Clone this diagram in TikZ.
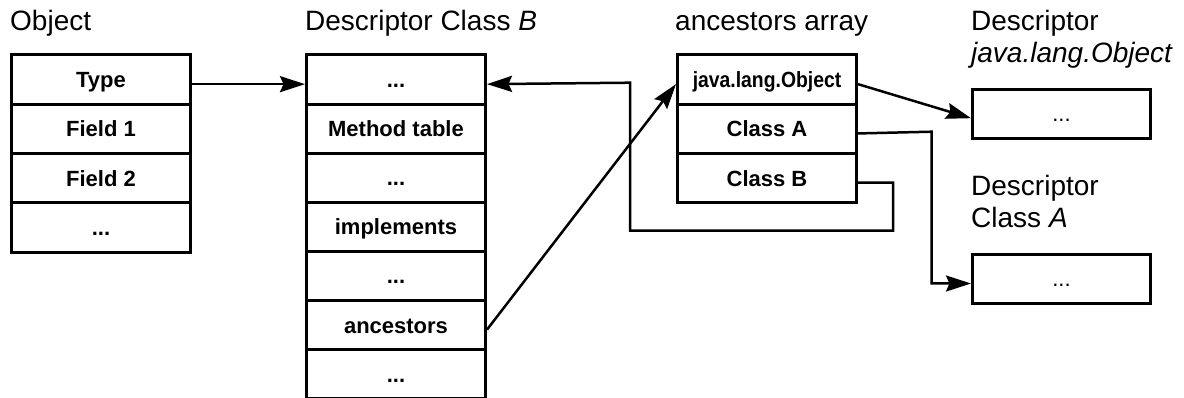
\documentclass[tikz,border=0pt]{standalone}
\usepackage{fontspec}
\usepackage{graphicx}
\setmainfont{Liberation Sans}
\usetikzlibrary{arrows.meta,calc}
\newcommand{\cellfont}{\fontsize{22}{26}\selectfont\bfseries}
\newcommand{\lblfont}{\fontsize{28}{32}\selectfont}
\tikzset{
  cell/.style={draw, line width=3pt, minimum width=179pt, minimum height=49.3pt,
    inner sep=0pt, font=\cellfont, text height=15.8pt, text depth=0pt, anchor=north west},
  lbl/.style={font=\lblfont, anchor=base west, inner sep=0pt},
  conn/.style={line width=2.5pt, -{Stealth[length=25pt,width=16pt,inset=3.5pt]}},
}
\begin{document}
\begin{tikzpicture}[x=1pt,y=-1pt]
\useasboundingbox (0,0) rectangle (1184,398);
% labels
\node[lbl] (lobj) at (10,30.5) {Object};
\node[lbl] (ldb) at (305,30.5) {Descriptor Class \textit{B}};
\node[lbl] (lanc) at (675,30.5) {ancestors array};
\node[lbl] (ldj1) at (971,31) {Descriptor};
\node[lbl] (ldj2) at (971,62.5) {\textit{java.lang.Object}};
\node[lbl] (lda1) at (971,195.5) {Descriptor};
\node[lbl] (lda2) at (971,228) {Class \textit{A}};
% Object
\node[cell] (o1) at (10,53.5) {Type};
\node[cell] (o2) at (10,102.8) {Field 1};
\node[cell] (o3) at (10,152.1) {Field 2};
\node[cell] (o4) at (10,201.4) {...};
% Descriptor Class B
\node[cell] (b1) at (305,53.5) {...};
\node[cell] (b2) at (305,102.6) {Method table};
\node[cell] (b3) at (305,151.7) {...};
\node[cell] (b4) at (305,200.8) {implements};
\node[cell] (b5) at (305,249.9) {...};
\node[cell] (b6) at (305,299.0) {ancestors};
\node[cell] (b7) at (305,348.1) {...};
% ancestors array
\node[cell] (a1) at (676,53.5) {\scalebox{0.88}[1]{java.lang.Object}};
\node[cell] (a2) at (676,102.8) {Class A};
\node[cell] (a3) at (676,152.1) {Class B};
% descriptors
\node[cell, minimum width=178pt, minimum height=49pt, font=\fontsize{22}{26}\selectfont] (dj) at (971,87.7) {...};
\node[cell, minimum width=178pt, minimum height=49pt, font=\fontsize{22}{26}\selectfont] (da) at (971,253) {...};
% connectors
\draw[conn] ([yshift=-4.5pt]o1.east) -- ([yshift=-4.5pt]b1.west);
\coordinate (r1) at (893,230.7);
\coordinate (r2) at (630,82.7);
\draw[conn] ([yshift=-4.5pt]a3.east) -| (r1) -| (r2) -- ([yshift=-4.5pt]b1.east);
\draw[conn] ([yshift=-4.5pt]b6.east) -- ([yshift=-4.5pt]a1.west);
\draw[conn] ([yshift=-4.5pt]a1.east) -- ([yshift=-4.5pt]dj.west);
\coordinate (r3) at (931.7,131.7);
\draw[conn] ([yshift=-4.5pt]a2.east) -- (r3) |- ([yshift=-4.5pt]da.west);
\end{tikzpicture}
\end{document}
